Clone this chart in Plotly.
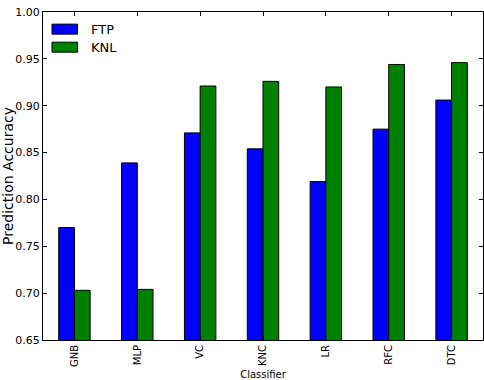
import plotly.graph_objects as go

categories = ["GNB", "MLP", "VC", "KNC", "LR", "RFC", "DTC"]
ftp = [0.770, 0.839, 0.871, 0.854, 0.819, 0.875, 0.906]
knl = [0.703, 0.704, 0.921, 0.926, 0.920, 0.944, 0.946]
y_ticks = [0.65, 0.70, 0.75, 0.80, 0.85, 0.90, 0.95, 1.00]
series_names = ["FTP", "KNL"]
series_colors = ["#0000ff", "#008000"]

font = "DejaVu Sans"
fig = go.Figure()
for name, vals, col in zip(series_names, [ftp, knl], series_colors):
    fig.add_trace(go.Bar(x=categories, y=vals, name=name,
                         marker=dict(color=col, line=dict(color="black", width=1))))

# matplotlib-style legend with wide patches (drawn in axis-domain coordinates)
leg_tops = [0.963, 0.908]
for name, col, top in zip(series_names, series_colors, leg_tops):
    fig.add_shape(type="rect", xref="x domain", yref="y domain",
                  x0=0.0205, x1=0.0785, y0=top - 0.0305, y1=top,
                  fillcolor=col, line=dict(color="black", width=1))
    fig.add_annotation(xref="x domain", yref="y domain", x=0.1045, y=top - 0.015,
                       text=name, showarrow=False, xanchor="left", yanchor="middle",
                       font=dict(family=font, size=13, color="black"))

fig.update_layout(
    width=484, height=380,
    margin=dict(l=43, r=1, t=12, b=40),
    paper_bgcolor="white", plot_bgcolor="white",
    barmode="group", bargap=0.5, bargroupgap=0,
    font=dict(family=font, size=11, color="black"),
    showlegend=False,
)
fig.update_xaxes(
    range=[-0.5, 6.5], showline=True, linecolor="black", linewidth=1, mirror="ticks",
    ticks="inside", ticklen=4, tickcolor="black", tickangle=-90, tickfont=dict(size=10),
    title=dict(text="Classifier", font=dict(size=10), standoff=6), showgrid=False,
)
fig.update_yaxes(
    range=[0.65, 1.0], tickvals=y_ticks, ticktext=[f"{v:.2f}" for v in y_ticks],
    showline=True, linecolor="black", linewidth=1, mirror="ticks",
    ticks="inside", ticklen=4, tickcolor="black", tickfont=dict(size=11),
    title=dict(text="Prediction Accuracy", font=dict(size=14), standoff=3), showgrid=False, zeroline=False,
)
fig.write_html("out.html")
